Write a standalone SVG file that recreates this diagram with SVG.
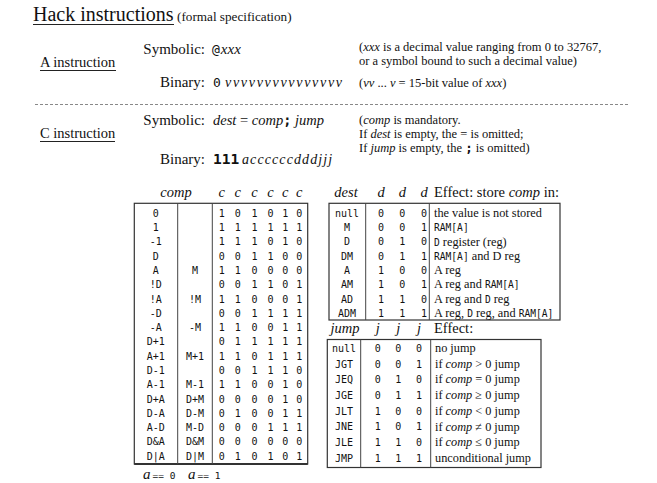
<svg xmlns="http://www.w3.org/2000/svg" width="657" height="483" viewBox="0 0 657 483">
<style>
text { font-family: "Liberation Serif", "Times New Roman", serif; fill: #111; }
.m { font-family: "DejaVu Sans Mono", "Liberation Mono", monospace; }
.i { font-style: italic; }
.lbl { font-size: 15px; }
.note { font-size: 12.5px; }
.hdr { font-size: 14.5px; }
.cell { font-family: "DejaVu Sans Mono", "Liberation Mono", monospace; font-size: 10px; text-anchor: middle; }
.eff { font-size: 12.3px; }
.em { font-family: "DejaVu Sans Mono", "Liberation Mono", monospace; font-size: 9.6px; }
.end { text-anchor: end; }
.mid { text-anchor: middle; }
.ul { stroke: #222; stroke-width: 1; }
.box { fill: #fff; stroke: #333; stroke-width: 1.2; }
.div { stroke: #444; stroke-width: 1; }
</style>
<rect width="657" height="483" fill="#fff"/>

<g id="title">
  <text x="33" y="21" style="font-size:20px">Hack instructions</text>
  <line class="ul" x1="33" y1="24.5" x2="174" y2="24.5"/>
  <text x="177" y="21" style="font-size:13.2px">(formal specification)</text>
</g>

<g id="a-instruction">
  <text x="40" y="67" style="font-size:14.5px">A instruction</text>
  <line class="ul" x1="40" y1="70.5" x2="116" y2="70.5"/>
  <text class="lbl end" x="205" y="54">Symbolic:</text>
  <text x="212" y="54"><tspan class="m" style="font-size:13px">@</tspan><tspan class="i" style="font-size:15px" dx="1">xxx</tspan></text>
  <text class="lbl end" x="205" y="87">Binary:</text>
  <text x="213" y="87"><tspan class="m" style="font-size:13px">0</tspan><tspan class="i" style="font-size:14px;letter-spacing:1.7px" x="225">vvvvvvvvvvvvvvv</tspan></text>
  <text class="note" x="359" y="51"><tspan>(</tspan><tspan class="i">xxx</tspan><tspan> is a decimal value ranging from 0 to 32767,</tspan></text>
  <text class="note" x="359" y="65">or a symbol bound to such a decimal value)</text>
  <text class="note" x="359" y="87"><tspan>(</tspan><tspan class="i">vv</tspan><tspan> ... </tspan><tspan class="i">v</tspan><tspan> = 15-bit value of </tspan><tspan class="i">xxx</tspan><tspan>)</tspan></text>
</g>

<line x1="35" y1="104.5" x2="630" y2="104.5" stroke="#888" stroke-width="1" stroke-dasharray="3,2"/>

<g id="c-instruction">
  <text x="40" y="138" style="font-size:14.5px">C instruction</text>
  <line class="ul" x1="40" y1="141.5" x2="115" y2="141.5"/>
  <text class="lbl end" x="205" y="125">Symbolic:</text>
  <text x="213" y="125" style="font-size:14.5px"><tspan class="i">dest</tspan><tspan> = </tspan><tspan class="i">comp</tspan><tspan class="m" style="font-size:13.5px;font-weight:bold">;</tspan><tspan class="i"> jump</tspan></text>
  <text class="lbl end" x="205" y="164">Binary:</text>
  <text x="213" y="164"><tspan class="m" style="font-size:14.5px;font-weight:bold">111</tspan><tspan class="i" style="font-size:14px;letter-spacing:1.1px" x="242">accccccdddjjj</tspan></text>
  <text class="note" x="359" y="124"><tspan>(</tspan><tspan class="i">comp</tspan><tspan> is mandatory.</tspan></text>
  <text class="note" x="359" y="138"><tspan>If </tspan><tspan class="i">dest</tspan><tspan> is empty, the = is omitted;</tspan></text>
  <text class="note" x="359" y="152"><tspan>If </tspan><tspan class="i">jump</tspan><tspan> is empty, the </tspan><tspan class="m" style="font-weight:bold">;</tspan><tspan> is omitted)</tspan></text>
</g>

<g id="comp-table">
  <text class="hdr i mid" x="176" y="197">comp</text>
  <text class="hdr i mid" x="221.7" y="197">c</text>
  <text class="hdr i mid" x="237.7" y="197">c</text>
  <text class="hdr i mid" x="254.5" y="197">c</text>
  <text class="hdr i mid" x="270.5" y="197">c</text>
  <text class="hdr i mid" x="285.3" y="197">c</text>
  <text class="hdr i mid" x="299.3" y="197">c</text>
  <rect class="box" x="134.3" y="203.3" width="173.4" height="260.7"/>
  <line x1="134.3" y1="464" x2="307.7" y2="464" stroke="#333" stroke-width="2.2"/>
  <line class="div" x1="177.7" y1="203.3" x2="177.7" y2="464"/>
  <line class="div" x1="212.3" y1="203.3" x2="212.3" y2="464"/>
  <g id="comp-col-a0">
    <text class="cell" x="155.7" y="216.8">0</text>
    <text class="cell" x="155.7" y="231.1">1</text>
    <text class="cell" x="155.7" y="245.4">-1</text>
    <text class="cell" x="155.7" y="259.6">D</text>
    <text class="cell" x="155.7" y="273.9">A</text>
    <text class="cell" x="155.7" y="288.2">!D</text>
    <text class="cell" x="155.7" y="302.5">!A</text>
    <text class="cell" x="155.7" y="316.8">-D</text>
    <text class="cell" x="155.7" y="331.1">-A</text>
    <text class="cell" x="155.7" y="345.3">D+1</text>
    <text class="cell" x="155.7" y="359.6">A+1</text>
    <text class="cell" x="155.7" y="373.9">D-1</text>
    <text class="cell" x="155.7" y="388.2">A-1</text>
    <text class="cell" x="155.7" y="402.5">D+A</text>
    <text class="cell" x="155.7" y="416.8">D-A</text>
    <text class="cell" x="155.7" y="431">A-D</text>
    <text class="cell" x="155.7" y="445.3">D&amp;A</text>
    <text class="cell" x="155.7" y="459.6">D|A</text>
  </g>
  <g id="comp-col-a1">
    <text class="cell" x="195" y="273.9">M</text>
    <text class="cell" x="195" y="302.5">!M</text>
    <text class="cell" x="195" y="331.1">-M</text>
    <text class="cell" x="195" y="359.6">M+1</text>
    <text class="cell" x="195" y="388.2">M-1</text>
    <text class="cell" x="195" y="402.5">D+M</text>
    <text class="cell" x="195" y="416.8">D-M</text>
    <text class="cell" x="195" y="431">M-D</text>
    <text class="cell" x="195" y="445.3">D&amp;M</text>
    <text class="cell" x="195" y="459.6">D|M</text>
  </g>
  <g id="comp-bits">
    <text class="cell" y="216.8"><tspan x="221.7">1</tspan><tspan x="237.7">0</tspan><tspan x="254.5">1</tspan><tspan x="270.5">0</tspan><tspan x="285.3">1</tspan><tspan x="299.3">0</tspan></text>
    <text class="cell" y="231.1"><tspan x="221.7">1</tspan><tspan x="237.7">1</tspan><tspan x="254.5">1</tspan><tspan x="270.5">1</tspan><tspan x="285.3">1</tspan><tspan x="299.3">1</tspan></text>
    <text class="cell" y="245.4"><tspan x="221.7">1</tspan><tspan x="237.7">1</tspan><tspan x="254.5">1</tspan><tspan x="270.5">0</tspan><tspan x="285.3">1</tspan><tspan x="299.3">0</tspan></text>
    <text class="cell" y="259.6"><tspan x="221.7">0</tspan><tspan x="237.7">0</tspan><tspan x="254.5">1</tspan><tspan x="270.5">1</tspan><tspan x="285.3">0</tspan><tspan x="299.3">0</tspan></text>
    <text class="cell" y="273.9"><tspan x="221.7">1</tspan><tspan x="237.7">1</tspan><tspan x="254.5">0</tspan><tspan x="270.5">0</tspan><tspan x="285.3">0</tspan><tspan x="299.3">0</tspan></text>
    <text class="cell" y="288.2"><tspan x="221.7">0</tspan><tspan x="237.7">0</tspan><tspan x="254.5">1</tspan><tspan x="270.5">1</tspan><tspan x="285.3">0</tspan><tspan x="299.3">1</tspan></text>
    <text class="cell" y="302.5"><tspan x="221.7">1</tspan><tspan x="237.7">1</tspan><tspan x="254.5">0</tspan><tspan x="270.5">0</tspan><tspan x="285.3">0</tspan><tspan x="299.3">1</tspan></text>
    <text class="cell" y="316.8"><tspan x="221.7">0</tspan><tspan x="237.7">0</tspan><tspan x="254.5">1</tspan><tspan x="270.5">1</tspan><tspan x="285.3">1</tspan><tspan x="299.3">1</tspan></text>
    <text class="cell" y="331.1"><tspan x="221.7">1</tspan><tspan x="237.7">1</tspan><tspan x="254.5">0</tspan><tspan x="270.5">0</tspan><tspan x="285.3">1</tspan><tspan x="299.3">1</tspan></text>
    <text class="cell" y="345.3"><tspan x="221.7">0</tspan><tspan x="237.7">1</tspan><tspan x="254.5">1</tspan><tspan x="270.5">1</tspan><tspan x="285.3">1</tspan><tspan x="299.3">1</tspan></text>
    <text class="cell" y="359.6"><tspan x="221.7">1</tspan><tspan x="237.7">1</tspan><tspan x="254.5">0</tspan><tspan x="270.5">1</tspan><tspan x="285.3">1</tspan><tspan x="299.3">1</tspan></text>
    <text class="cell" y="373.9"><tspan x="221.7">0</tspan><tspan x="237.7">0</tspan><tspan x="254.5">1</tspan><tspan x="270.5">1</tspan><tspan x="285.3">1</tspan><tspan x="299.3">0</tspan></text>
    <text class="cell" y="388.2"><tspan x="221.7">1</tspan><tspan x="237.7">1</tspan><tspan x="254.5">0</tspan><tspan x="270.5">0</tspan><tspan x="285.3">1</tspan><tspan x="299.3">0</tspan></text>
    <text class="cell" y="402.5"><tspan x="221.7">0</tspan><tspan x="237.7">0</tspan><tspan x="254.5">0</tspan><tspan x="270.5">0</tspan><tspan x="285.3">1</tspan><tspan x="299.3">0</tspan></text>
    <text class="cell" y="416.8"><tspan x="221.7">0</tspan><tspan x="237.7">1</tspan><tspan x="254.5">0</tspan><tspan x="270.5">0</tspan><tspan x="285.3">1</tspan><tspan x="299.3">1</tspan></text>
    <text class="cell" y="431"><tspan x="221.7">0</tspan><tspan x="237.7">0</tspan><tspan x="254.5">0</tspan><tspan x="270.5">1</tspan><tspan x="285.3">1</tspan><tspan x="299.3">1</tspan></text>
    <text class="cell" y="445.3"><tspan x="221.7">0</tspan><tspan x="237.7">0</tspan><tspan x="254.5">0</tspan><tspan x="270.5">0</tspan><tspan x="285.3">0</tspan><tspan x="299.3">0</tspan></text>
    <text class="cell" y="459.6"><tspan x="221.7">0</tspan><tspan x="237.7">1</tspan><tspan x="254.5">0</tspan><tspan x="270.5">1</tspan><tspan x="285.3">0</tspan><tspan x="299.3">1</tspan></text>
  </g>
  <text x="143" y="479" style="font-size:15px"><tspan class="i">a</tspan><tspan class="m" style="font-size:9.5px" dx="2">== 0</tspan></text>
  <text x="188" y="479" style="font-size:15px"><tspan class="i">a</tspan><tspan class="m" style="font-size:9.5px" dx="2">== 1</tspan></text>
</g>

<g id="dest-table">
  <text class="hdr i mid" x="346" y="197">dest</text>
  <text class="hdr i mid" x="381" y="197">d</text>
  <text class="hdr i mid" x="402.3" y="197">d</text>
  <text class="hdr i mid" x="424" y="197">d</text>
  <text class="hdr" x="434" y="197"><tspan>Effect: store </tspan><tspan class="i">comp</tspan><tspan> in:</tspan></text>
  <rect class="box" x="329" y="203.3" width="231" height="116.7"/>
  <line class="div" x1="365.7" y1="203.3" x2="365.7" y2="320"/>
  <line class="div" x1="429.3" y1="203.3" x2="429.3" y2="320"/>
  <text class="cell" x="347" y="216.8">null</text>
  <text class="cell" x="347" y="231.1">M</text>
  <text class="cell" x="347" y="245.4">D</text>
  <text class="cell" x="347" y="259.6">DM</text>
  <text class="cell" x="347" y="273.9">A</text>
  <text class="cell" x="347" y="288.2">AM</text>
  <text class="cell" x="347" y="302.5">AD</text>
  <text class="cell" x="347" y="316.8">ADM</text>
  <text class="cell" y="216.8"><tspan x="381">0</tspan><tspan x="402.3">0</tspan><tspan x="424">0</tspan></text>
  <text class="cell" y="231.1"><tspan x="381">0</tspan><tspan x="402.3">0</tspan><tspan x="424">1</tspan></text>
  <text class="cell" y="245.4"><tspan x="381">0</tspan><tspan x="402.3">1</tspan><tspan x="424">0</tspan></text>
  <text class="cell" y="259.6"><tspan x="381">0</tspan><tspan x="402.3">1</tspan><tspan x="424">1</tspan></text>
  <text class="cell" y="273.9"><tspan x="381">1</tspan><tspan x="402.3">0</tspan><tspan x="424">0</tspan></text>
  <text class="cell" y="288.2"><tspan x="381">1</tspan><tspan x="402.3">0</tspan><tspan x="424">1</tspan></text>
  <text class="cell" y="302.5"><tspan x="381">1</tspan><tspan x="402.3">1</tspan><tspan x="424">0</tspan></text>
  <text class="cell" y="316.8"><tspan x="381">1</tspan><tspan x="402.3">1</tspan><tspan x="424">1</tspan></text>
  <text class="eff" x="434" y="217">the value is not stored</text>
  <text class="eff" x="434" y="231.3"><tspan class="em">RAM[A]</tspan></text>
  <text class="eff" x="434" y="245.6"><tspan class="em">D</tspan><tspan> register (reg)</tspan></text>
  <text class="eff" x="434" y="259.8"><tspan class="em">RAM[A]</tspan><tspan> and D reg</tspan></text>
  <text class="eff" x="434" y="274.1">A reg</text>
  <text class="eff" x="434" y="288.4"><tspan>A reg and </tspan><tspan class="em">RAM[A]</tspan></text>
  <text class="eff" x="434" y="302.7"><tspan>A reg and </tspan><tspan class="em">D</tspan><tspan> reg</tspan></text>
  <text class="eff" x="434" y="317"><tspan>A reg, </tspan><tspan class="em">D</tspan><tspan> reg, and </tspan><tspan class="em">RAM[A]</tspan></text>
</g>

<g id="jump-table">
  <text class="hdr i mid" x="345" y="333">jump</text>
  <text class="hdr i mid" x="377.7" y="333">j</text>
  <text class="hdr i mid" x="398.3" y="333">j</text>
  <text class="hdr i mid" x="419" y="333">j</text>
  <text class="hdr" x="434" y="333">Effect:</text>
  <rect class="box" x="327.3" y="339.5" width="213.7" height="128"/>
  <line class="div" x1="360.7" y1="339.5" x2="360.7" y2="467.5"/>
  <line class="div" x1="430.7" y1="339.5" x2="430.7" y2="467.5"/>
  <text class="cell" x="344" y="351.8">null</text>
  <text class="cell" x="344" y="367.5">JGT</text>
  <text class="cell" x="344" y="383.2">JEQ</text>
  <text class="cell" x="344" y="398.9">JGE</text>
  <text class="cell" x="344" y="414.6">JLT</text>
  <text class="cell" x="344" y="430.3">JNE</text>
  <text class="cell" x="344" y="446">JLE</text>
  <text class="cell" x="344" y="461.7">JMP</text>
  <text class="cell" y="351.8"><tspan x="377.7">0</tspan><tspan x="398.3">0</tspan><tspan x="419">0</tspan></text>
  <text class="cell" y="367.5"><tspan x="377.7">0</tspan><tspan x="398.3">0</tspan><tspan x="419">1</tspan></text>
  <text class="cell" y="383.2"><tspan x="377.7">0</tspan><tspan x="398.3">1</tspan><tspan x="419">0</tspan></text>
  <text class="cell" y="398.9"><tspan x="377.7">0</tspan><tspan x="398.3">1</tspan><tspan x="419">1</tspan></text>
  <text class="cell" y="414.6"><tspan x="377.7">1</tspan><tspan x="398.3">0</tspan><tspan x="419">0</tspan></text>
  <text class="cell" y="430.3"><tspan x="377.7">1</tspan><tspan x="398.3">0</tspan><tspan x="419">1</tspan></text>
  <text class="cell" y="446"><tspan x="377.7">1</tspan><tspan x="398.3">1</tspan><tspan x="419">0</tspan></text>
  <text class="cell" y="461.7"><tspan x="377.7">1</tspan><tspan x="398.3">1</tspan><tspan x="419">1</tspan></text>
  <text class="eff" x="435" y="352">no jump</text>
  <text class="eff" x="435" y="367.7"><tspan>if </tspan><tspan class="i">comp</tspan><tspan> &gt; 0 jump</tspan></text>
  <text class="eff" x="435" y="383.4"><tspan>if </tspan><tspan class="i">comp</tspan><tspan> = 0 jump</tspan></text>
  <text class="eff" x="435" y="399.1"><tspan>if </tspan><tspan class="i">comp</tspan><tspan> ≥ 0 jump</tspan></text>
  <text class="eff" x="435" y="414.8"><tspan>if </tspan><tspan class="i">comp</tspan><tspan> &lt; 0 jump</tspan></text>
  <text class="eff" x="435" y="430.5"><tspan>if </tspan><tspan class="i">comp</tspan><tspan> ≠ 0 jump</tspan></text>
  <text class="eff" x="435" y="446.2"><tspan>if </tspan><tspan class="i">comp</tspan><tspan> ≤ 0 jump</tspan></text>
  <text class="eff" x="435" y="461.9">unconditional jump</text>
</g>
</svg>
